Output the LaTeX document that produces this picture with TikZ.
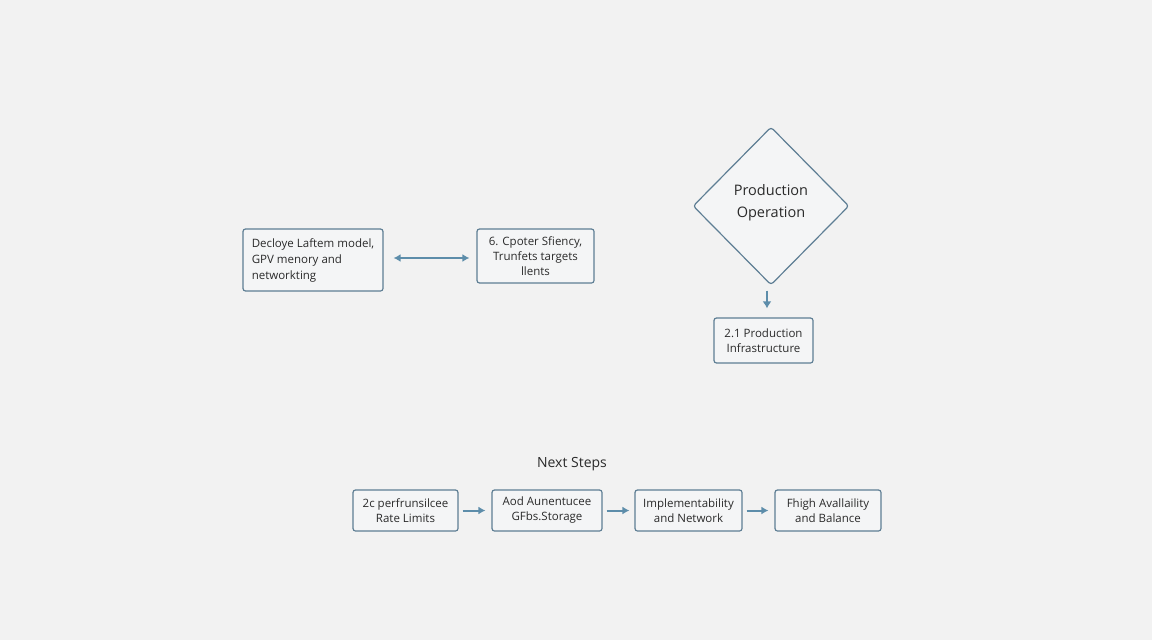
\documentclass[tikz,border=0pt]{standalone}
\usepackage{fontspec}
\setmainfont{Open Sans}
\usetikzlibrary{shapes.geometric,arrows.meta}
\definecolor{bg}{HTML}{F2F2F2}
\definecolor{edge}{HTML}{5E7E94}
\definecolor{boxfill}{HTML}{F4F5F6}
\definecolor{arr}{HTML}{5D8DAA}
\definecolor{txt}{HTML}{2A2A2A}
\begin{document}
\begin{tikzpicture}[x=1pt,y=-1pt,
  box/.style={draw=edge,fill=boxfill,line width=1.2pt,rounded corners=2.5pt,align=center,
    text=txt,font=\fontsize{11.5}{15}\selectfont,inner sep=0pt},
  link/.style={draw=arr,line width=2pt,-{Latex[length=7pt,width=8pt]}},
]
\fill[bg] (0,0) rectangle (1152,640);
\useasboundingbox (0,0) rectangle (1152,640);

\node[box,minimum width=140pt,minimum height=62pt,align=left,
  font=\fontsize{11.5}{16}\selectfont] (a) at (313,260)
  {Decloye Laftem model,\\GPV menory and\\networkting};
\node[box,minimum width=117pt,minimum height=54pt] (b) at (535.5,256)
  {6. Cpoter Sfiency,\\Trunfets targets\\llents};
\draw[draw=arr,line width=2pt,{Latex[length=7pt,width=8pt]}-{Latex[length=7pt,width=8pt]}]
  ([xshift=10pt]a.east |- 0,258) -- ([xshift=-7pt]b.west |- 0,258);

\node[draw=edge,fill=boxfill,line width=1.2pt,diamond,aspect=1,minimum width=156pt,
  minimum height=158pt,inner sep=0pt,rounded corners=3pt,
  label={[text=txt,align=center,font=\fontsize{14.5}{22}\selectfont,yshift=3pt]center:{Production\\Operation}}]
  (d) at (771,206) {};

\node[box,minimum width=99pt,minimum height=45pt] (c) at (763.5,340.5)
  {2.1 Production\\Infrastructure};
\draw[draw=arr,line width=2pt,-{Latex[length=7pt,width=9pt]}]
  ([xshift=-4pt,yshift=-5pt]d.south) -- ([xshift=3.5pt,yshift=9pt]c.north);

\node[text=txt,font=\fontsize{14}{16}\selectfont] (ns) at (572,464) {Next Steps};

\node[box,minimum width=105pt,minimum height=41pt] (d1) at (405.5,510.5)
  {2c perfrunsilcee\\Rate Limits};
\node[box,minimum width=110pt,minimum height=41pt] (d2) at (547,510.5)
  {Aod Aunentucee\\GFbs.Storage};
\node[box,minimum width=107pt,minimum height=41pt] (d3) at (688.5,510.5)
  {Implementability\\and Network};
\node[box,minimum width=106pt,minimum height=41pt] (d4) at (828,510.5)
  {Fhigh Avallaility\\and Balance};

\draw[link] ([xshift=4pt]d1.east) -- ([xshift=-6pt]d2.west);
\draw[link] ([xshift=4pt]d2.east) -- ([xshift=-5pt]d3.west);
\draw[link] ([xshift=4pt]d3.east) -- ([xshift=-6pt]d4.west);
\end{tikzpicture}
\end{document}
